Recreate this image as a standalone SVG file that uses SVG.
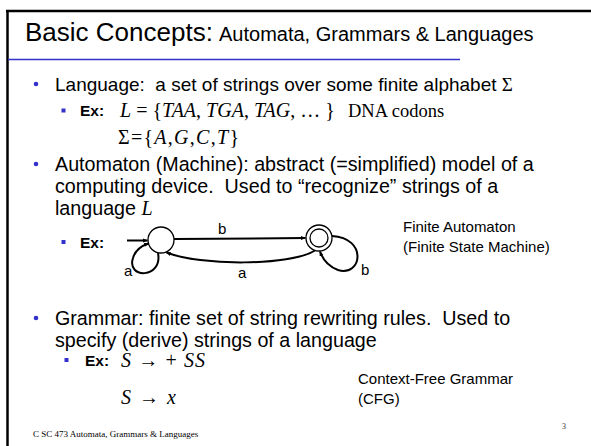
<svg xmlns="http://www.w3.org/2000/svg" width="591" height="446" viewBox="0 0 591 446">
<style>
.b{font-family:"Liberation Sans",Arial,sans-serif;font-size:19.7px;fill:#000}
.s{font-family:"Liberation Sans",Arial,sans-serif;font-size:15px;fill:#000}
.ex{font-family:"Liberation Sans",Arial,sans-serif;font-size:15.5px;font-weight:bold;fill:#000}
.m{font-family:"Liberation Serif","Times New Roman",serif;font-size:20px;fill:#000}
.i{font-style:italic}
.dot{fill:#3333cc}
.e{fill:none;stroke:#000;stroke-width:2}
.st{fill:#fff;stroke:#000;stroke-width:1.3}
</style>
<defs>
<marker id="ah" viewBox="0 0 10 10" refX="9" refY="5" markerWidth="5" markerHeight="5" orient="auto" markerUnits="userSpaceOnUse">
<path d="M0,1 L10,5 L0,9 Z" fill="#000"/>
</marker>
</defs>
<rect width="591" height="446" fill="#fff"/>
<g id="frame">
<line x1="6" y1="11" x2="591" y2="11" stroke="#000" stroke-width="2.5"/>
<line x1="7.5" y1="10" x2="7.5" y2="446" stroke="#000" stroke-width="2.5"/>
<line x1="8" y1="59.5" x2="460" y2="59.5" stroke="#3333cc" stroke-width="1.5"/>
</g>
<g id="title">
<text x="25" y="41" font-family="Liberation Sans,Arial,sans-serif" font-size="26">Basic Concepts:</text>
<text x="219" y="41" font-family="Liberation Sans,Arial,sans-serif" font-size="20">Automata, Grammars &amp; Languages</text>
</g>
<g id="bullet-language">
<circle class="dot" cx="36" cy="84" r="2.3"/>
<text class="b" x="55" y="91" style="font-size:19px" xml:space="preserve">Language:  a set of strings over some finite alphabet <tspan class="m" style="font-size:19px">Σ</tspan></text>
<rect class="dot" x="61.5" y="108.5" width="4" height="4"/>
<text class="ex" x="80" y="116">Ex:</text>
<text class="m" x="120" y="117"><tspan class="i">L</tspan> = {<tspan class="i">TAA</tspan>, <tspan class="i">TGA</tspan>, <tspan class="i">TAG</tspan>, … }</text>
<text class="m" x="348" y="117" style="font-size:18.5px">DNA codons</text>
<text class="m" x="118" y="144" textLength="121" lengthAdjust="spacing">Σ={<tspan class="i">A</tspan>,<tspan class="i">G</tspan>,<tspan class="i">C</tspan>,<tspan class="i">T</tspan>}</text>
</g>
<g id="bullet-automaton">
<circle class="dot" cx="36" cy="164" r="2.3"/>
<text class="b" x="55" y="171">Automaton (Machine): abstract (=simplified) model of a</text>
<text class="b" x="55" y="193" xml:space="preserve">computing device.  Used to “recognize” strings of a</text>
<text class="b" x="55" y="215">language <tspan class="m i">L</tspan></text>
<rect class="dot" x="61.5" y="240" width="4" height="4"/>
<text class="ex" x="80" y="248">Ex:</text>
<text class="s" x="403" y="232">Finite Automaton</text>
<text class="s" x="403" y="252">(Finite State Machine)</text>
</g>
<g id="state-q0">
<circle class="st" cx="161" cy="240" r="13"/>
</g>
<g id="state-q1">
<circle class="st" cx="319" cy="238" r="13"/>
<circle class="st" cx="319" cy="238" r="9"/>
</g>
<g id="connectors">
<line class="e" x1="127" y1="240.5" x2="147.5" y2="240.5" marker-end="url(#ah)"/>
<line class="e" x1="174" y1="239" x2="305.5" y2="238" marker-end="url(#ah)"/>
<path class="e" d="M158,253 C163,279 126,279 133,258 C135,251 141,246 148.5,243.5" marker-end="url(#ah)"/>
<path class="e" d="M315,250.5 C290,266 200,266 166.5,252.5" marker-end="url(#ah)"/>
<path class="e" d="M332,236 C368,238 362,277 338,270 C330,267 323,260 320,251.5" marker-end="url(#ah)"/>
</g>
<g id="labels">
<text class="s" x="218" y="234">b</text>
<text class="s" x="124" y="276">a</text>
<text class="s" x="238" y="278">a</text>
<text class="s" x="361" y="275">b</text>
</g>
<g id="bullet-grammar">
<circle class="dot" cx="36" cy="318" r="2.3"/>
<text class="b" x="55" y="325" xml:space="preserve">Grammar: finite set of string rewriting rules.  Used to</text>
<text class="b" x="55" y="347">specify (derive) strings of a language</text>
<rect class="dot" x="64.5" y="358" width="4" height="4"/>
<text class="ex" x="85" y="366">Ex:</text>
<text class="m" x="121" y="367" textLength="84" lengthAdjust="spacing"><tspan class="i">S</tspan> → + <tspan class="i">SS</tspan></text>
<text class="m" x="121" y="404" textLength="55" lengthAdjust="spacing"><tspan class="i">S</tspan> → <tspan class="i">x</tspan></text>
<text class="s" x="358" y="384">Context-Free Grammar</text>
<text class="s" x="358" y="404">(CFG)</text>
</g>
<g id="footer">
<text x="33" y="437" font-family="Liberation Serif,serif" font-size="9">C SC 473 Automata, Grammars &amp; Languages</text>
<text x="562" y="429" font-family="Liberation Serif,serif" font-size="8" fill="#333">3</text>
</g>
</svg>
